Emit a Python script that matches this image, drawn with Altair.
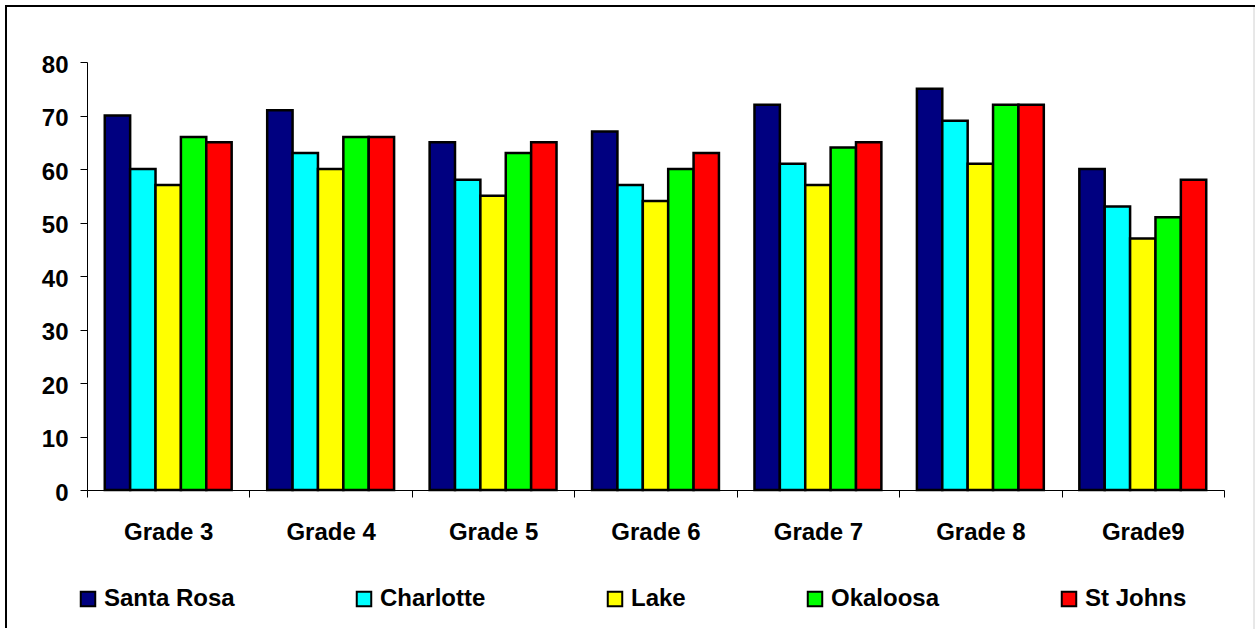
import altair as alt
import pandas as pd

# Grouped bars: score by grade for five Florida districts
grades = ["Grade 3", "Grade 4", "Grade 5", "Grade 6", "Grade 7", "Grade 8", "Grade9"]
districts = ["Santa Rosa", "Charlotte", "Lake", "Okaloosa", "St Johns"]
colors = ["#000080", "#00FFFF", "#FFFF00", "#00FF00", "#FF0000"]

santa_rosa = [70, 71, 65, 67, 72, 75, 60]
charlotte = [60, 63, 58, 57, 61, 69, 53]
lake = [57, 60, 55, 54, 57, 61, 47]
okaloosa = [66, 66, 63, 60, 64, 72, 51]
st_johns = [65, 66, 65, 63, 65, 72, 58]

y_ticks = [0, 10, 20, 30, 40, 50, 60, 70, 80]

series = [santa_rosa, charlotte, lake, okaloosa, st_johns]
rows = []
for name, vals in zip(districts, series):
    for g, v in zip(grades, vals):
        rows.append({"grade": g, "district": name, "score": v})
df = pd.DataFrame(rows)

FONT = "Liberation Sans"
W, H = 1137, 428

bars = alt.Chart(df).mark_bar(stroke="black", strokeWidth=2.5).encode(
    x=alt.X(
        "grade:N",
        sort=grades,
        title=None,
        scale=alt.Scale(paddingInner=0, paddingOuter=0),
        axis=alt.Axis(
            labelAngle=0,
            tickBand="extent",
            tickSize=7,
            tickColor="black",
            domainColor="black",
            labelFont=FONT,
            labelFontSize=24,
            labelFontWeight="bold",
            labelColor="black",
            labelPadding=23,
        ),
    ),
    xOffset=alt.XOffset(
        "district:N",
        sort=districts,
        scale=alt.Scale(domain=districts, paddingInner=0, paddingOuter=0.7),
    ),
    y=alt.Y(
        "score:Q",
        title=None,
        scale=alt.Scale(domain=[0, 80]),
        axis=alt.Axis(
            values=y_ticks,
            grid=False,
            tickSize=7,
            tickColor="black",
            domainColor="black",
            labelFont=FONT,
            labelFontSize=24,
            labelFontWeight="bold",
            labelColor="black",
            labelPadding=12,
            labelOffset=3,
        ),
    ),
    color=alt.Color(
        "district:N",
        scale=alt.Scale(domain=districts, range=colors),
        legend=alt.Legend(
            title=None,
            orient="none",
            legendX=-11,
            legendY=525,
            direction="horizontal",
            columns=5,
            gridAlign="none",
            columnPadding=117,
            symbolType="square",
            symbolSize=210,
            symbolStrokeColor="black",
            symbolStrokeWidth=2,
            symbolOpacity=1,
            labelOffset=4,
            labelLimit=300,
            labelFont=FONT,
            labelFontSize=24,
            labelFontWeight="bold",
            labelColor="black",
        ),
    ),
)

# Outer frame around the whole figure
frame_df = pd.DataFrame({"k": [0]})
left_edge = alt.Chart(frame_df).mark_rule(color="black", strokeWidth=2).encode(
    x=alt.value(-81), y=alt.value(-56), y2=alt.value(566)
)
top_edge = alt.Chart(frame_df).mark_rule(color="black", strokeWidth=2).encode(
    x=alt.value(-82), x2=alt.value(1168), y=alt.value(-56)
)
right_edge = alt.Chart(frame_df).mark_rule(color="#d0d0d0", strokeWidth=1).encode(
    x=alt.value(1167), y=alt.value(-55), y2=alt.value(567)
)

chart = (
    alt.layer(bars, left_edge, top_edge, right_edge)
    .properties(
        width=W,
        height=H,
        autosize=alt.AutoSizeParams(type="none"),
        padding={"left": 87, "top": 62, "right": 31, "bottom": 139},
        background="white",
    )
    .configure_view(stroke=None)
)

chart.save("out.html", embed_options={"renderer": "svg", "actions": False})
